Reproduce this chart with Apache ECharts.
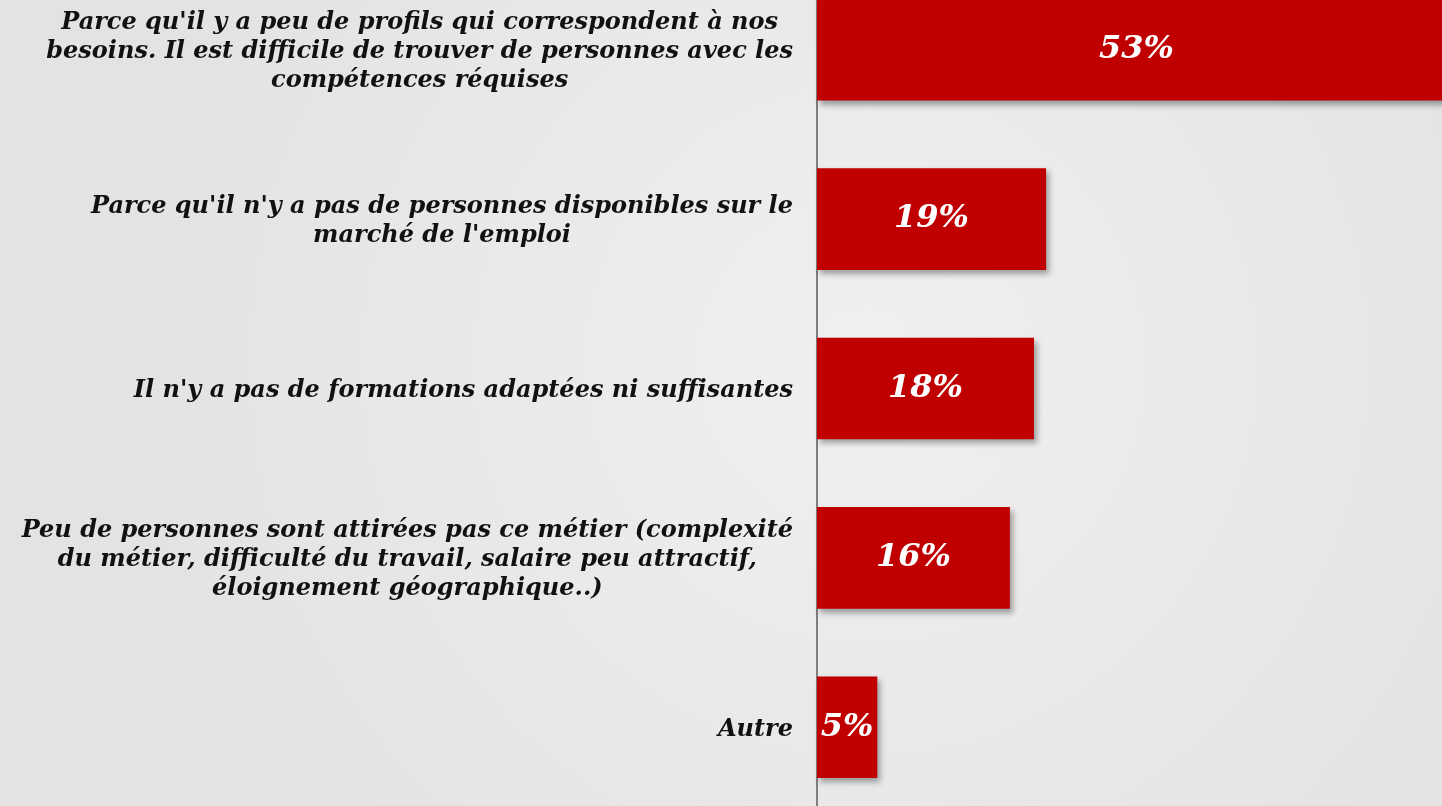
<!DOCTYPE html>
<html>
<head>
<meta charset="utf-8">
<script src="https://cdn.jsdelivr.net/npm/echarts@6/dist/echarts.min.js"></script>
<style>
html, body { margin: 0; padding: 0; }
#chart { width: 1442px; height: 806px; }
</style>
</head>
<body>
<div id="chart"></div>
<script>
var categories = [
    "Parce qu'il y a peu de profils qui correspondent à nos\nbesoins. Il est difficile de trouver de personnes avec les\ncompétences réquises",
    "Parce qu'il n'y a pas de personnes disponibles sur le\nmarché de l'emploi",
    "Il n'y a pas de formations adaptées ni suffisantes",
    "Peu de personnes sont attirées pas ce métier (complexité\ndu métier, difficulté du travail, salaire peu attractif,\néloignement géographique..)",
    "Autre"
];
var values = [53, 19, 18, 16, 5];

var serif = "'DejaVu Serif', 'Liberation Serif', serif";

var myChart = echarts.init(document.getElementById('chart'));
myChart.setOption({
    backgroundColor: {
        type: 'radial', x: 0.6, y: 0.45, r: 0.9,
        colorStops: [
            { offset: 0, color: '#f0f0f0' },
            { offset: 1, color: '#e3e3e3' }
        ]
    },
    animation: false,
    grid: {
        left: 817,
        right: -14,
        top: -35,
        bottom: -6,
        outerBoundsMode: 'none'
    },
    xAxis: {
        type: 'value',
        min: 0,
        max: 53,
        show: false
    },
    yAxis: {
        type: 'category',
        inverse: true,
        data: categories,
        axisLine: { show: true, lineStyle: { color: '#7f7f7f', width: 2 } },
        axisTick: { show: false },
        axisLabel: {
            margin: 24,
            align: 'right',
            formatter: function (v) {
                return '{c|' + v + '}';
            },
            rich: {
                c: {
                    align: 'center',
                    fontFamily: serif,
                    fontStyle: 'italic',
                    fontWeight: 'bold',
                    fontSize: 24,
                    lineHeight: 29,
                    padding: [4, 0, 0, 0],
                    color: '#111'
                }
            }
        }
    },
    series: [
        {
            type: 'bar',
            data: values,
            barWidth: '60%',
            itemStyle: {
                color: '#c00000',
                shadowBlur: 6,
                shadowOffsetX: 3,
                shadowOffsetY: 4,
                shadowColor: 'rgba(0,0,0,0.35)'
            },
            label: {
                show: true,
                position: 'inside',
                formatter: '{c}%',
                color: '#fff',
                fontFamily: serif,
                fontStyle: 'italic',
                fontWeight: 'bold',
                fontSize: 32
            }
        }
    ]
});
</script>
</body>
</html>
